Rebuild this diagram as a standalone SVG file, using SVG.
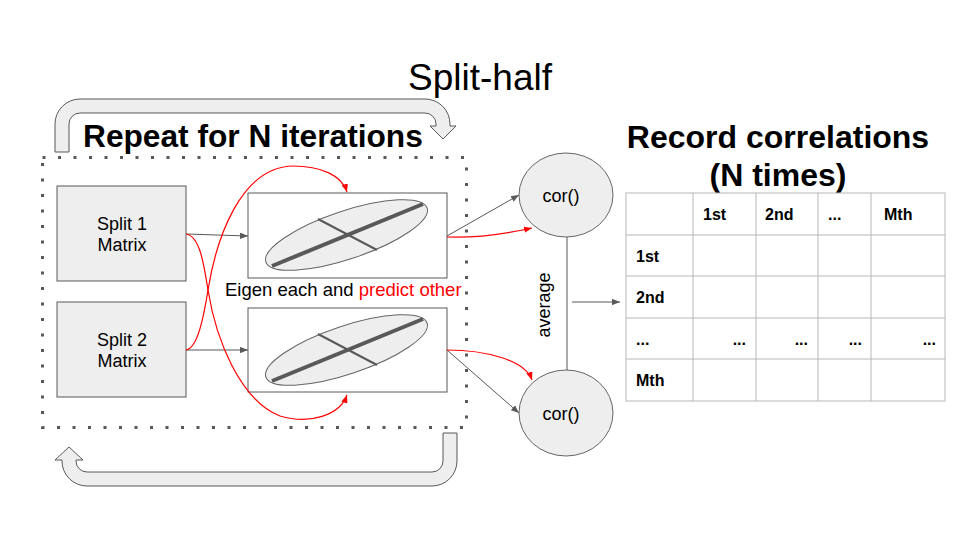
<svg xmlns="http://www.w3.org/2000/svg" width="960" height="540" viewBox="0 0 960 540">
<style>
text{font-family:"Liberation Sans",Arial,sans-serif;fill:#000}
.b{font-weight:bold}
.box{fill:#eeeeee;stroke:#595959;stroke-width:1}
.wbox{fill:#ffffff;stroke:#595959;stroke-width:1}
.ell{fill:#eeeeee;stroke:#666666;stroke-width:1}
.g{fill:none;stroke:#595959;stroke-width:1}
.r{fill:none;stroke:#ff0000;stroke-width:1.2}
.tb{fill:none;stroke:#b7b7b7;stroke-width:1}
.t16{font-size:16px;font-weight:bold}
</style>
<defs>
<marker id="ag" viewBox="0 0 10 8" refX="10" refY="4" markerWidth="8" markerHeight="6.4" markerUnits="userSpaceOnUse" orient="auto"><path d="M0,0 L10,4 L0,8 z" fill="#595959"/></marker>
<marker id="ar" viewBox="0 0 10 8" refX="10" refY="4" markerWidth="8" markerHeight="6.4" markerUnits="userSpaceOnUse" orient="auto"><path d="M0,0 L10,4 L0,8 z" fill="#ff0000"/></marker>
</defs>
<rect width="960" height="540" fill="#ffffff"/>

<text x="408" y="90" font-size="37">Split-half</text>
<path class="box" d="M55,152 L55,124 A25,25 0 0 1 80,99 L425,99 A25,25 0 0 1 450,124 L450,126 L456,126 L443,139 L430,126 L436,126 L436,124 A11,11 0 0 0 425,113 L80,113 A11,11 0 0 0 69,124 L69,152 Z"/>
<text class="b" x="83" y="147" font-size="31.7">Repeat for N iterations</text>
<rect x="42.5" y="157.5" width="424" height="270" fill="none" stroke="#595959" stroke-width="3" stroke-dasharray="3 12.5"/>
<path class="box" d="M457,433 L457,461 A25,25 0 0 1 432,486 L87,486 A25,25 0 0 1 62,461 L62,460 L55,460 L69,447 L83,460 L76,460 L76,461 A11,11 0 0 0 87,472 L432,472 A11,11 0 0 0 443,461 L443,433 Z"/>

<g id="split1">
<rect class="box" x="57" y="186" width="129" height="95"/>
<text x="122" y="230" font-size="18" text-anchor="middle">Split 1</text>
<text x="122" y="251" font-size="18" text-anchor="middle">Matrix</text>
</g>
<g id="split2">
<rect class="box" x="57" y="302" width="129" height="95"/>
<text x="122" y="346" font-size="18" text-anchor="middle">Split 2</text>
<text x="122" y="367" font-size="18" text-anchor="middle">Matrix</text>
</g>
<g id="eigen1">
<rect class="wbox" x="248" y="193" width="199" height="85"/>
<ellipse class="ell" cx="346.5" cy="235" rx="85" ry="24" transform="rotate(-18.5 346.5 235)"/>
<line x1="272" y1="266" x2="423" y2="204" stroke="#595959" stroke-width="4"/>
<line x1="318" y1="219" x2="377" y2="250" stroke="#595959" stroke-width="2"/>
</g>
<g id="eigen2">
<rect class="wbox" x="248" y="308" width="199" height="84"/>
<ellipse class="ell" cx="346.5" cy="350" rx="85" ry="24" transform="rotate(-18.5 346.5 350)"/>
<line x1="272" y1="381" x2="423" y2="319" stroke="#595959" stroke-width="4"/>
<line x1="318" y1="334" x2="377" y2="365" stroke="#595959" stroke-width="2"/>
</g>
<text x="225" y="296" font-size="18.5">Eigen each and <tspan fill="#ff0000">predict other</tspan></text>

<g id="cor1">
<ellipse class="ell" cx="566" cy="195" rx="47" ry="42"/>
<text x="561" y="202" font-size="18" text-anchor="middle">cor()</text>
</g>
<g id="cor2">
<ellipse class="ell" cx="566" cy="413" rx="47" ry="43"/>
<text x="561" y="420" font-size="18" text-anchor="middle">cor()</text>
</g>
<text x="0" y="0" font-size="18" text-anchor="middle" transform="translate(550 305) rotate(-90)">average</text>

<g id="connectors">
<line class="g" x1="186" y1="234" x2="248" y2="236" marker-end="url(#ag)"/>
<line class="g" x1="186" y1="350" x2="248" y2="350" marker-end="url(#ag)"/>
<path class="r" d="M186,234 C200,236 204,265 208,290 C216,340 240,400 280,416 C310,425 340,415 347,395" marker-end="url(#ar)"/>
<path class="r" d="M186,350 C198,348 204,315 208,290 C216,240 240,167 293,166 C320,166 342,175 347,192" marker-end="url(#ar)"/>
<line class="g" x1="447" y1="236" x2="519" y2="195" marker-end="url(#ag)"/>
<path class="r" d="M447,237 C475,238 505,234 532,228" marker-end="url(#ar)"/>
<line class="g" x1="447" y1="350" x2="519" y2="413" marker-end="url(#ag)"/>
<path class="r" d="M447,350 C485,350 525,360 532,380" marker-end="url(#ar)"/>
<line class="g" x1="567" y1="237" x2="567" y2="370"/>
<line class="g" x1="572" y1="302" x2="620" y2="302" marker-end="url(#ag)"/>
</g>

<g id="table">
<text class="b" x="778" y="148" font-size="32" text-anchor="middle">Record correlations</text>
<text class="b" x="778" y="186" font-size="32" text-anchor="middle">(N times)</text>
<rect class="tb" x="626" y="193" width="319" height="208"/>
<line class="tb" x1="693" y1="193" x2="693" y2="401"/>
<line class="tb" x1="756" y1="193" x2="756" y2="401"/>
<line class="tb" x1="818" y1="193" x2="818" y2="401"/>
<line class="tb" x1="871" y1="193" x2="871" y2="401"/>
<line class="tb" x1="626" y1="235" x2="945" y2="235"/>
<line class="tb" x1="626" y1="276" x2="945" y2="276"/>
<line class="tb" x1="626" y1="318" x2="945" y2="318"/>
<line class="tb" x1="626" y1="359" x2="945" y2="359"/>
<text class="t16" x="703" y="220">1st</text>
<text class="t16" x="765" y="220">2nd</text>
<text class="t16" x="828" y="220">...</text>
<text class="t16" x="884" y="220">Mth</text>
<text class="t16" x="636" y="262">1st</text>
<text class="t16" x="636" y="303">2nd</text>
<text class="t16" x="636" y="345">...</text>
<text class="t16" x="636" y="386">Mth</text>
<text class="t16" x="746" y="345" text-anchor="end">...</text>
<text class="t16" x="808" y="345" text-anchor="end">...</text>
<text class="t16" x="862" y="345" text-anchor="end">...</text>
<text class="t16" x="936" y="345" text-anchor="end">...</text>
</g>
</svg>
